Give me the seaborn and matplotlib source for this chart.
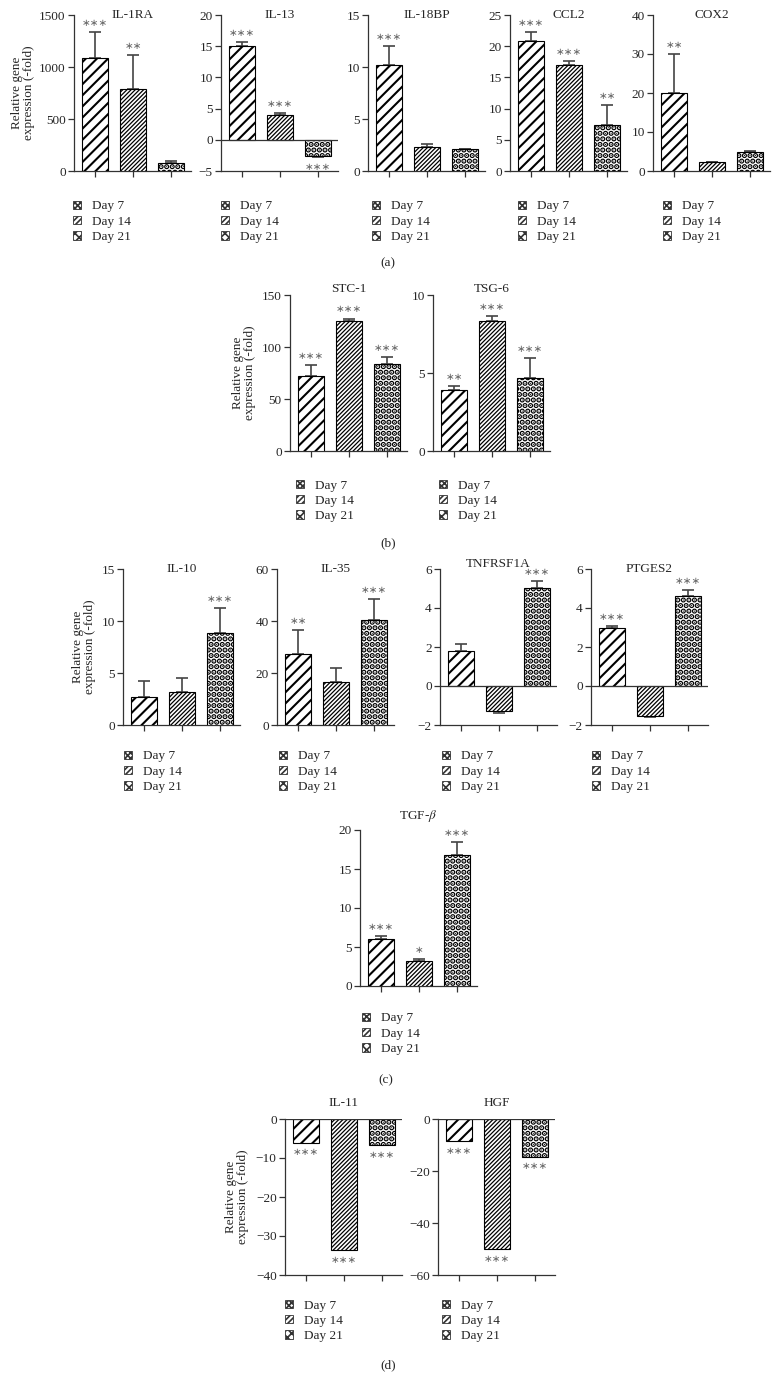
import numpy as np
import pandas as pd
import matplotlib
matplotlib.use('Agg')
from matplotlib import pyplot as plt
import matplotlib.patches as mpatches
import seaborn as sns

# ---- data ----
DAYS = ['Day 7', 'Day 14', 'Day 21']

il1ra = [1083, 785, 74]
il1ra_err = [257, 330, 26]
il1ra_sig = ['***', '**', '']

il13 = [15.05, 4.03, -2.63]
il13_err = [0.55, 0.22, 0.17]
il13_sig = ['***', '***', '***']

il18bp = [10.2, 2.34, 2.08]
il18bp_err = [1.85, 0.26, 0.07]
il18bp_sig = ['***', '', '']

ccl2 = [20.9, 17.0, 7.3]
ccl2_err = [1.45, 0.6, 3.2]
ccl2_sig = ['***', '***', '**']

cox2 = [19.9, 2.3, 5.0]
cox2_err = [10.1, 0.1, 0.25]
cox2_sig = ['**', '', '']

stc1 = [71.9, 124.8, 83.9]
stc1_err = [10.4, 2.6, 6.7]
stc1_sig = ['***', '***', '***']

tsg6 = [3.89, 8.32, 4.7]
tsg6_err = [0.3, 0.34, 1.24]
tsg6_sig = ['**', '***', '***']

il10 = [2.74, 3.19, 8.84]
il10_err = [1.52, 1.33, 2.39]
il10_sig = ['', '', '***']

il35 = [27.2, 16.6, 40.4]
il35_err = [9.4, 5.3, 8.2]
il35_sig = ['**', '', '***']

tnfrsf1a = [1.78, -1.26, 5.01]
tnfrsf1a_err = [0.39, 0.14, 0.36]
tnfrsf1a_sig = ['', '', '***']

ptges2 = [2.96, -1.52, 4.63]
ptges2_err = [0.13, 0.05, 0.31]
ptges2_sig = ['***', '', '***']

tgfb = [6.07, 3.2, 16.84]
tgfb_err = [0.38, 0.22, 1.62]
tgfb_sig = ['***', '*', '***']

il11 = [-6.03, -33.7, -6.72]
il11_err = [0, 0, 0]
il11_sig = ['***', '***', '***']

hgf = [-8.46, -50.1, -14.5]
hgf_err = [0, 0, 0]
hgf_sig = ['***', '***', '***']

# gene, values, errors, stars, y ticks
PANELS = [
    ('IL-1RA', il1ra, il1ra_err, il1ra_sig, [0, 500, 1000, 1500]),
    ('IL-13', il13, il13_err, il13_sig, [-5, 0, 5, 10, 15, 20]),
    ('IL-18BP', il18bp, il18bp_err, il18bp_sig, [0, 5, 10, 15]),
    ('CCL2', ccl2, ccl2_err, ccl2_sig, [0, 5, 10, 15, 20, 25]),
    ('COX2', cox2, cox2_err, cox2_sig, [0, 10, 20, 30, 40]),
    ('STC-1', stc1, stc1_err, stc1_sig, [0, 50, 100, 150]),
    ('TSG-6', tsg6, tsg6_err, tsg6_sig, [0, 5, 10]),
    ('IL-10', il10, il10_err, il10_sig, [0, 5, 10, 15]),
    ('IL-35', il35, il35_err, il35_sig, [0, 20, 40, 60]),
    ('TNFRSF1A', tnfrsf1a, tnfrsf1a_err, tnfrsf1a_sig, [-2, 0, 2, 4, 6]),
    ('PTGES2', ptges2, ptges2_err, ptges2_sig, [-2, 0, 2, 4, 6]),
    ('TGF-$\\beta$', tgfb, tgfb_err, tgfb_sig, [0, 5, 10, 15, 20]),
    ('IL-11', il11, il11_err, il11_sig, [-40, -30, -20, -10, 0]),
    ('HGF', hgf, hgf_err, hgf_sig, [-60, -40, -20, 0]),
]

# ---- layout in pixels: axes left, axes top, title y, legend x, legend first row y ----
W, H = 777, 1380
AX_W, AX_H = 117, 156
LAYOUT = [
    (74, 15, 15, 74, 208), (221, 15, 15, 222, 208), (368, 15, 15, 373, 208),
    (510, 15, 15, 519, 208), (653, 15, 15, 664, 208),
    (290, 295, 289, 297, 487), (433, 295, 289, 440, 487),
    (123, 569, 569, 125, 758), (277, 569, 569, 280, 758),
    (440, 569, 564, 443, 758), (591, 569, 569, 593, 758),
    (360, 830, 816, 363, 1020),
    (285, 1119, 1103, 286, 1307), (438, 1119, 1103, 443, 1307),
]
YLABELS = [(23, 93), (244, 373), (84, 647), (237, 1197)]
TAGS = [('(a)', 388, 263), ('(b)', 388, 543), ('(c)', 386, 1080), ('(d)', 388, 1365)]

HATCH = ['///', '////////', '...']
HATCH_LW = [1.5, 0.9, 2.8]
LEG_HATCH = ['xxxxxx', '//////', 'xxxx']
LEG_LW = [0.5, 0.4, 0.9]
LINE = '#333333'

sns.set_style('ticks')
plt.rcParams['font.family'] = ['Liberation Serif', 'DejaVu Serif']
plt.rcParams['mathtext.fontset'] = 'stix'
plt.rcParams['hatch.linewidth'] = 1.2
plt.rcParams['axes.unicode_minus'] = True

fig = plt.figure(figsize=(W / 100, H / 100), dpi=100)


def px_axes(left, top):
    return fig.add_axes([left / W, 1 - (top + AX_H) / H, AX_W / W, AX_H / H])


def set_hlw(p, lw):
    if hasattr(p, 'set_hatch_linewidth'):
        p.set_hatch_linewidth(lw)


for (gene, vals, errs, sig, ticks), (left, top, ty, lx, ly) in zip(PANELS, LAYOUT):
    ax = px_axes(left, top)
    df = pd.DataFrame({'day': DAYS, 'value': vals})
    sns.barplot(data=df, x='day', y='value', hue='day', palette=['white'] * 3,
                saturation=1, edgecolor='black', linewidth=0.8, width=0.68,
                errorbar=None, legend=False, ax=ax, zorder=3)
    for p, h, lw in zip(ax.patches, HATCH, HATCH_LW):
        p.set_hatch(h)
        set_hlw(p, lw)

    for i, (v, e, s) in enumerate(zip(vals, errs, sig)):
        end = v + e if v >= 0 else v - e
        if e > 0:
            yerr = [[0], [e]] if v >= 0 else [[e], [0]]
            ax.errorbar([i], [v], yerr=yerr, fmt='none', ecolor='#444444',
                        elinewidth=1.2, capsize=4.2, capthick=1.2, zorder=2)
        if s:
            off = 6.5 if v >= 0 else -7
            ax.annotate(s.replace('*', '\u2217'), xy=(i, end), xytext=(0, off),
                        textcoords='offset points', ha='center', va='center',
                        fontsize=7.5, color='#666666', family='DejaVu Sans')

    ax.set_xlim(-0.56, 2.52)
    ax.set_ylim(ticks[0], ticks[-1])
    ax.set_yticks(ticks)
    if ticks[0] < 0:
        ax.axhline(0, color=LINE, lw=0.9, zorder=4)
    ax.set_xticks([0, 1, 2])
    ax.set_xticklabels([])
    ax.set_xlabel('')
    ax.set_ylabel('')
    sns.despine(ax=ax)
    for sp in ('left', 'bottom'):
        ax.spines[sp].set_color(LINE)
        ax.spines[sp].set_linewidth(0.9)
    ax.tick_params(direction='out', length=4, width=0.9, color=LINE,
                   labelsize=9.5, pad=2)

    fig.text((left + AX_W / 2) / W, 1 - ty / H, gene, ha='center', va='center',
             fontsize=9.5)

    handles = []
    for h, lw in zip(LEG_HATCH, LEG_LW):
        hp = mpatches.Patch(facecolor='white', edgecolor='#333333', hatch=h,
                            linewidth=0.6)
        set_hlw(hp, lw)
        handles.append(hp)
    ax.legend(handles, DAYS, loc='upper left',
              bbox_to_anchor=((lx - 1) / W, 1 - (ly - 7.5) / H),
              bbox_transform=fig.transFigure, frameon=False, fontsize=9.5,
              borderpad=0, borderaxespad=0, handlelength=0.6, handleheight=0.6,
              handletextpad=0.85, labelspacing=0.25)

for x, y in YLABELS:
    fig.text(x / W, 1 - y / H, 'Relative gene\nexpression (-fold)', rotation=90,
             ha='center', va='center', multialignment='center', fontsize=9.5,
             linespacing=1.1)

for t, x, y in TAGS:
    fig.text(x / W, 1 - y / H, t, ha='center', va='center', fontsize=9.5)

fig.savefig('out.png', dpi=100)
